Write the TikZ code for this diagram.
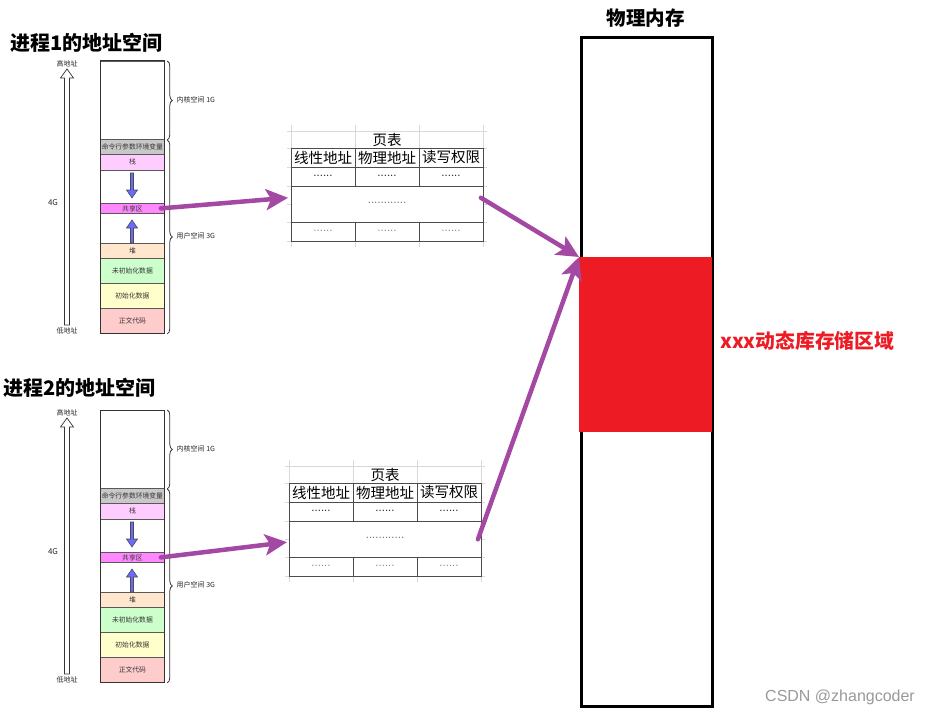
\documentclass[tikz,border=0pt]{standalone}
\usepackage{fontspec}
\setmainfont{Noto Sans CJK SC}
\newfontfamily\wmfont{Liberation Sans}
\usetikzlibrary{arrows.meta,decorations.pathreplacing,calc}
\definecolor{pur}{HTML}{A349A4}
\definecolor{dynred}{HTML}{ED1C24}
\definecolor{cmdgray}{HTML}{C8C8C8}
\definecolor{stackc}{HTML}{FFCCFF}
\definecolor{sharec}{HTML}{FF88FF}
\definecolor{heapc}{HTML}{FFE6CC}
\definecolor{bssc}{HTML}{CCFFCC}
\definecolor{datac}{HTML}{FFFFCC}
\definecolor{textc}{HTML}{FFCCCC}
\definecolor{blarrow}{HTML}{6A6AFF}
\begin{document}
\begin{tikzpicture}[x=1pt,y=-1pt,
 seg/.style={draw=black!65, line width=0.8pt, minimum width=64pt, inner sep=0pt, anchor=north west, font=\fontsize{6.8}{7}\selectfont, text=black!80},
 tiny/.style={font=\fontsize{7}{8}\selectfont, text=black!85, inner sep=0.5pt},
 ttl/.style={font=\fontsize{20}{24}\selectfont\bfseries, inner sep=0pt},
 tline/.style={draw=black!70, line width=0.9pt},
 faint/.style={draw=black!15, line width=0.6pt},
 hd/.style={font=\fontsize{14.5}{16}\selectfont, inner sep=0pt},
 dots/.style={font=\wmfont\fontsize{11.5}{12}\selectfont, inner sep=0pt},
 parrow/.style={draw=pur, line width=4.5pt, line cap=round, -{Stealth[length=22pt,width=21pt,inset=5pt]}},
 blar/.style={fill=blarrow, draw=black!70, line width=0.6pt},
 brc/.style={decorate, decoration={brace, amplitude=5pt}, draw=black!80, line width=0.8pt},
]
\useasboundingbox (0,0) rectangle (925,714);

% titles
\node[ttl, anchor=west] (t1) at (10,43) {进程1的地址空间};
\node[ttl, anchor=west] (t2) at (3,388) {进程2的地址空间};

% address spaces
\foreach \i/\dy in {1/0,2/349}{
  \node[seg, minimum height=78pt] (kern\i) at (100,61+\dy) {};
  \node[seg, fill=cmdgray, minimum height=15pt] (cmd\i) at (100,139+\dy) {命令行参数环境变量};
  \node[seg, fill=stackc, minimum height=16pt] (stk\i) at (100,154+\dy) {栈};
  \node[seg, minimum height=33pt] (gapa\i) at (100,170+\dy) {};
  \node[seg, fill=sharec, minimum height=10pt] (shr\i) at (100,203+\dy) {共享区};
  \node[seg, minimum height=30pt] (gapb\i) at (100,213+\dy) {};
  \node[seg, fill=heapc, minimum height=15pt] (heap\i) at (100,243+\dy) {堆};
  \node[seg, fill=bssc, minimum height=25pt] (bss\i) at (100,258+\dy) {未初始化数据};
  \node[seg, fill=datac, minimum height=25pt] (data\i) at (100,283+\dy) {初始化数据};
  \node[seg, fill=textc, minimum height=25pt] (code\i) at (100,308+\dy) {正文代码};
  \draw[black!80, line width=1pt] (kern\i.north west) rectangle (code\i.south east);
  % braces
  \draw[brc] ([xshift=2.5pt]kern\i.north east) -- ([xshift=2.5pt]kern\i.south east);
  \draw[brc] ([xshift=2.5pt,yshift=-1pt]cmd\i.north east) -- ([xshift=2.5pt]code\i.south east);
  \node[tiny, anchor=west] (kl\i) at (176,100+\dy) {内核空间 1G};
  \node[tiny, anchor=west] (ul\i) at (176,236+\dy) {用户空间 3G};
  % address arrow
  \draw[black!80, line width=0.7pt, fill=white] (64.5,325+\dy) -- (64.5,78+\dy) -- (60.5,78+\dy) -- (67,69+\dy) -- (73.5,78+\dy) -- (69.5,78+\dy) -- (69.5,325+\dy) -- cycle;
  \node[tiny] (hi\i) at (67,64+\dy) {高地址};
  \node[tiny] (lo\i) at (67,331+\dy) {低地址};
  \node[tiny, font=\fontsize{8}{9}\selectfont] (fg\i) at (53,203+\dy) {4G};
  % stack / heap growth arrows
  \draw[blar] (130.5,173+\dy) -- (130.5,190+\dy) -- (126.5,190+\dy) -- (132,198+\dy) -- (137.5,190+\dy) -- (133.5,190+\dy) -- (133.5,173+\dy) -- cycle;
  \draw[blar] (130.5,243+\dy) -- (130.5,228+\dy) -- (126.5,228+\dy) -- (132,220+\dy) -- (137.5,228+\dy) -- (133.5,228+\dy) -- (133.5,243+\dy) -- cycle;
}

% page tables
\foreach \i/\tx/\ty in {1/291/148,2/289/483}{
  \begin{scope}[shift={(\tx,\ty)}]
    \draw[faint] (-4,-17) -- (196,-17);
    \foreach \xx in {0,64,128,192}{
      \draw[faint] (\xx,-23) -- (\xx,0) (\xx,93) -- (\xx,99);
    }
    \foreach \yy in {0,19,38,56,74,93}{
      \draw[faint] (-4,\yy) -- (0,\yy) (192,\yy) -- (196,\yy);
    }
    \node[tline, minimum width=192pt, minimum height=93pt, anchor=north west, inner sep=0pt] (pt\i) at (0,0) {};
    \draw[tline] (0,19) -- (192,19) (0,38) -- (192,38) (0,74) -- (192,74)
      (64,0) -- (64,38) (128,0) -- (128,38) (64,74) -- (64,93) (128,74) -- (128,93);
    \node[hd] (ptt\i) at (96,-8) {页表};
    \node[hd] (ha\i) at (32,9.5) {线性地址};
    \node[hd] (hb\i) at (96,9.5) {物理地址};
    \node[hd] (hc\i) at (160,9.5) {读写权限};
    \node[dots, text=black!85] (da\i) at (32,27.5) {......};
    \node[dots, text=black!85] (db\i) at (96,27.5) {......};
    \node[dots, text=black!85] (dc\i) at (160,27.5) {......};
    \node[dots, text=black!55] (dm\i) at (96,55) {............};
    \node[dots, text=black!45] (de\i) at (32,82.5) {......};
    \node[dots, text=black!45] (df\i) at (96,82.5) {......};
    \node[dots, text=black!45] (dg\i) at (160,82.5) {......};
  \end{scope}
}

% physical memory
\node[font=\fontsize{19.5}{22}\selectfont\bfseries, inner sep=0pt] (physt) at (645.5,18) {物理内存};
\node[draw=black, line width=2.6pt, minimum width=131pt, minimum height=669pt, anchor=north west, inner sep=0pt] (phys) at (580,36) {};
\node[fill=dynred, minimum width=133pt, minimum height=175pt, anchor=north west, inner sep=0pt] (dyn) at (579,257) {};
\node[font=\fontsize{19.8}{22}\selectfont\bfseries, text=dynred, anchor=west, inner sep=0pt] (dynl) at (720,341) {xxx动态库存储区域};

% connectors
\draw[parrow] ([xshift=-4pt]shr1.east) -- ($(pt1.north west)!0.53!(pt1.south west)+(-3,0)$);
\draw[parrow] ($(pt1.north east)!0.53!(pt1.south east)+(-3,0)$) -- (dyn.north west);
\draw[parrow] ([xshift=-4pt]shr2.east) -- ($(pt2.north west)!0.63!(pt2.south west)+(-2,0)$);
\draw[parrow] ($(pt2.north east)!0.6!(pt2.south east)+(-4,0)$) -- (dyn.north west);

% watermark
\node[font=\wmfont\fontsize{16}{18}\selectfont, text=black!40, anchor=west, inner sep=0pt] (wm) at (765,697) {CSDN @zhangcoder};
\end{tikzpicture}
\end{document}
